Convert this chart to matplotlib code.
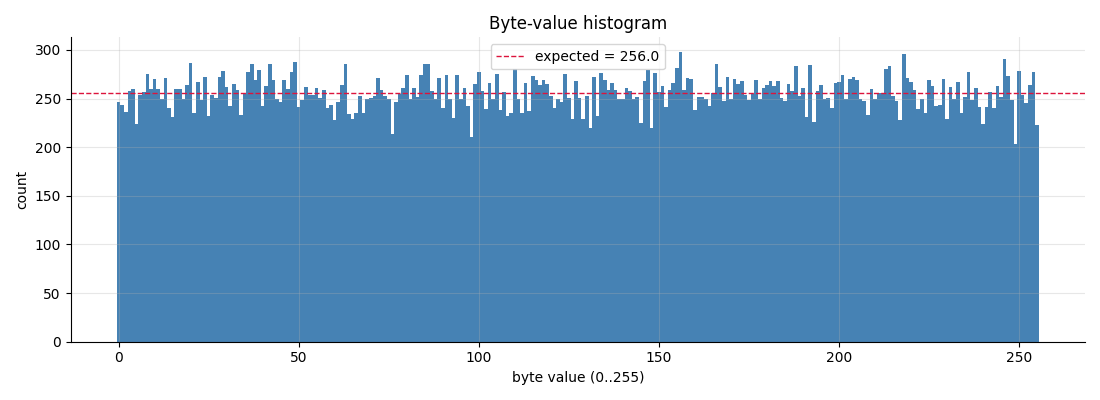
import matplotlib
matplotlib.use("Agg")
import matplotlib.pyplot as plt
import numpy as np

# counts per byte value
byte_values = list(range(256))
counts = [
    246, 243, 236, 258, 260, 224, 254, 257, 275, 260, 270, 260, 250, 271, 240, 231,
    260, 260, 249, 264, 287, 235, 267, 248, 272, 232, 254, 251, 272, 278, 262, 242,
    265, 259, 233, 255, 277, 286, 269, 279, 242, 263, 286, 269, 249, 246, 269, 260,
    277, 288, 241, 248, 262, 254, 254, 261, 251, 259, 240, 243, 228, 246, 264, 286,
    234, 229, 235, 253, 235, 250, 251, 253, 271, 259, 253, 249, 214, 246, 255, 261,
    274, 249, 261, 252, 274, 285, 286, 258, 250, 271, 240, 274, 250, 230, 274, 250,
    261, 242, 210, 265, 277, 258, 239, 266, 249, 275, 238, 257, 232, 235, 280, 250,
    235, 266, 237, 273, 269, 264, 269, 265, 253, 240, 250, 246, 275, 251, 229, 268,
    251, 229, 253, 220, 272, 232, 276, 269, 259, 266, 259, 250, 249, 261, 258, 249,
    252, 225, 268, 279, 220, 276, 257, 263, 241, 259, 266, 281, 298, 259, 271, 270,
    238, 252, 252, 249, 242, 256, 286, 262, 247, 272, 249, 270, 265, 268, 254, 248,
    255, 269, 249, 261, 264, 268, 263, 268, 251, 247, 265, 258, 283, 253, 261, 231,
    284, 226, 258, 264, 249, 251, 240, 266, 267, 274, 250, 270, 272, 269, 249, 247,
    233, 260, 250, 256, 256, 280, 283, 253, 247, 228, 296, 271, 267, 259, 239, 250,
    235, 269, 263, 242, 243, 270, 229, 262, 250, 267, 235, 252, 277, 248, 261, 241,
    224, 241, 257, 240, 263, 252, 291, 273, 248, 203, 278, 254, 245, 264, 277, 223,
]
expected = 256.0

fig, ax = plt.subplots(figsize=(11, 4), dpi=100)
# one bin per byte, centred on the value
ax.hist(byte_values, bins=np.arange(257) - 0.5, weights=counts, color="steelblue")
ax.axhline(expected, color="crimson", linestyle="--", linewidth=1,
           label=f"expected = {expected}")

ax.set_title("Byte-value histogram")
ax.set_xlabel("byte value (0..255)")
ax.set_ylabel("count")
ax.grid(True, alpha=0.3)
ax.spines["top"].set_visible(False)
ax.spines["right"].set_visible(False)
ax.legend(loc="upper center")

fig.tight_layout()
fig.savefig("out.png")
